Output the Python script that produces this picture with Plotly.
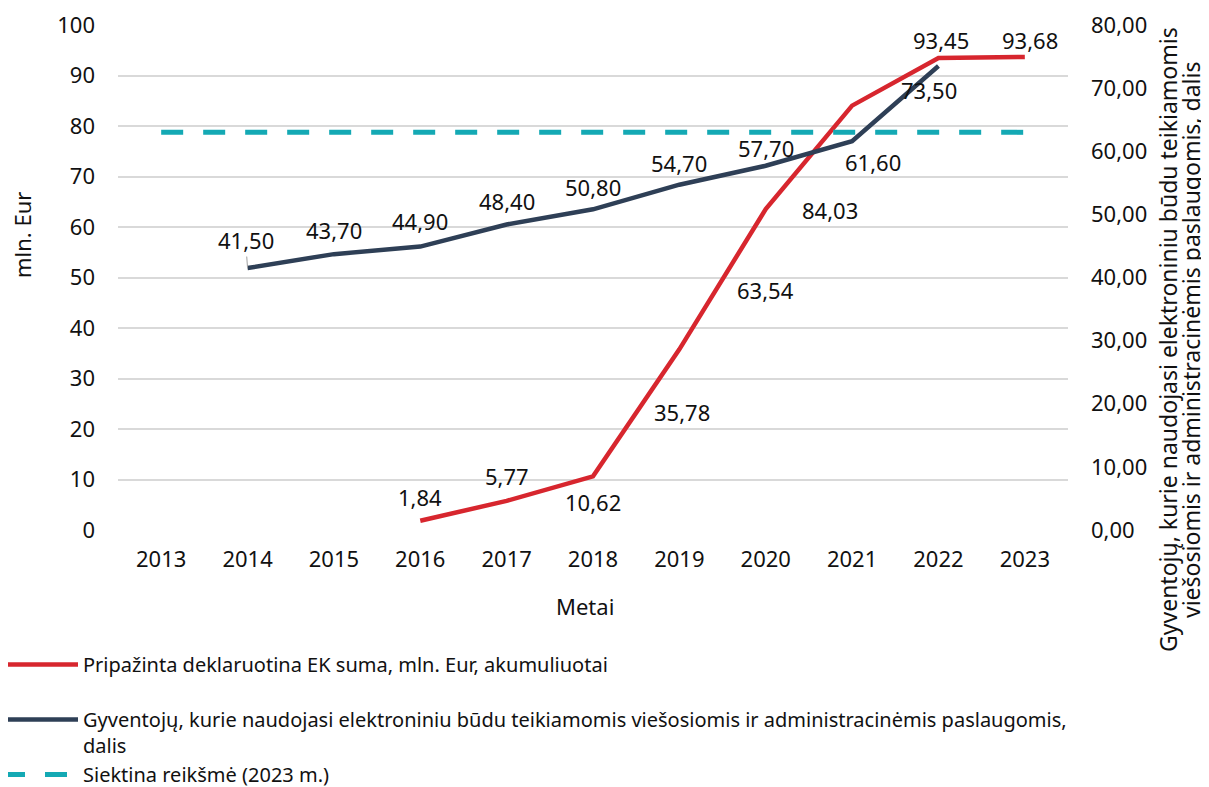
import plotly.graph_objects as go

years = ["2013", "2014", "2015", "2016", "2017", "2018", "2019", "2020", "2021", "2022", "2023"]

red_years = ["2016", "2017", "2018", "2019", "2020", "2021", "2022", "2023"]
red_values = [1.84, 5.77, 10.62, 35.78, 63.54, 84.03, 93.45, 93.68]

dark_years = ["2014", "2015", "2016", "2017", "2018", "2019", "2020", "2021", "2022"]
dark_values = [41.50, 43.70, 44.90, 48.40, 50.80, 54.70, 57.70, 61.60, 73.50]

target_years = ["2013", "2023"]
target_values = [63, 63]

red_name = "Pripažinta deklaruotina EK suma, mln. Eur, akumuliuotai"
dark_name = "Gyventojų, kurie naudojasi elektroniniu būdu teikiamomis viešosiomis ir administracinėmis paslaugomis,<br>dalis"
target_name = "Siektina reikšmė (2023 m.)"
left_title = "mln. Eur"
right_title_1 = "Gyventojų, kurie naudojasi elektroniniu būdu teikiamomis"
right_title_2 = "viešosiomis ir administracinėmis paslaugomis, dalis"
x_title = "Metai"

# label offsets in px (style)
red_shift = [(0, 24), (0, 25), (0, -26), (3, -63), (0, -81), (-22, -104), (3, 18), (5, 17)]
dark_shift = [(0, 28), (0, 24), (0, 26), (0, 23), (0, 22), (0, 22), (0, 18), (21, -21), (-9, -24)]

FONT = "Noto Sans"
FS = 22
TXT = "#111111"
RED = "#D7262E"
DARK = "#2E3F56"
TEAL = "#14A9B4"

# page has an 8px body margin: figure drawn at (8, 8)
OFF = 8
W, H = 1201, 779
L, T = 118 - OFF, 25 - OFF
PR, PB = 1068 - OFF, 530 - OFF
R, B = W - PR, H - PB
pw, ph = PR - L, PB - T

fig = go.Figure()
fig.add_trace(go.Scatter(x=red_years, y=red_values, mode="lines", name=red_name + "<br>&nbsp;",
                         line=dict(color=RED, width=4.5), yaxis="y"))
fig.add_trace(go.Scatter(x=dark_years, y=dark_values, mode="lines", name=dark_name,
                         line=dict(color=DARK, width=4.5), yaxis="y2"))
fig.add_trace(go.Scatter(x=target_years, y=target_values, mode="lines", name=target_name,
                         line=dict(color=TEAL, width=5, dash="22px,20px"), yaxis="y2"))


def fmt(v):
    return f"{v:.2f}".replace(".", ",")


lab_font = dict(family=FONT, size=FS, color=TXT)
ann = []
for x, v, (dx, dy) in zip(red_years, red_values, red_shift):
    ann.append(dict(x=years.index(x), y=v, xref="x", yref="y", text=fmt(v), showarrow=False,
                    xshift=dx, yshift=dy, font=lab_font))
for i, (x, v, (dx, dy)) in enumerate(zip(dark_years, dark_values, dark_shift)):
    if i == 0:
        ann.append(dict(x=years.index(x), y=v, xref="x", yref="y2", text=fmt(v), showarrow=True,
                        ax=-2, ay=-dy, arrowhead=0, arrowwidth=1, arrowcolor="#A0A0A0",
                        standoff=0, startstandoff=0, font=lab_font))
    else:
        ann.append(dict(x=years.index(x), y=v, xref="x", yref="y2", text=fmt(v), showarrow=False,
                        xshift=dx, yshift=dy, font=lab_font))


def page_to_paper(px, py):
    return (px - OFF - L) / pw, 1 - (py - OFF - T) / ph


for text, (px, py), ang, fs in [(left_title, (22, 235), -90, FS),
                                (right_title_1, (1168, 340), -90, 23),
                                (right_title_2, (1191, 340), -90, 23),
                                (x_title, (585, 606), 0, FS)]:
    xp, yp = page_to_paper(px, py)
    ann.append(dict(x=xp, y=yp, xref="paper", yref="paper", text=text, showarrow=False,
                    textangle=ang, xanchor="center", yanchor="middle",
                    font=dict(family=FONT, size=fs, color=TXT)))

leg_x, _ = page_to_paper(-2, 0)
_, leg_y = page_to_paper(0, 645)

fig.update_layout(
    width=W, height=H,
    margin=dict(l=L, r=R, t=T, b=B, autoexpand=False),
    plot_bgcolor="white", paper_bgcolor="white",
    separators=", ",
    font=dict(family=FONT, size=FS, color=TXT),
    showlegend=True,
    legend=dict(orientation="v", xref="paper", yref="paper", x=leg_x, y=leg_y,
                xanchor="left", yanchor="top", valign="top", itemwidth=75,
                font=dict(family=FONT, size=20, color=TXT), bgcolor="rgba(0,0,0,0)",
                tracegroupgap=0, traceorder="normal"),
    xaxis=dict(type="category", categoryorder="array", categoryarray=years, range=[-0.5, 10.5],
               showgrid=False, zeroline=False, showline=False, ticks="", ticklabelstandoff=14,
               tickfont=lab_font),
    yaxis=dict(range=[0, 100], dtick=10, showgrid=True, gridcolor="#D9D9D9", gridwidth=1.5,
               zeroline=False, showline=False, ticks="", ticklabelstandoff=22,
               tickfont=lab_font),
    yaxis2=dict(range=[0, 80], dtick=10, overlaying="y", side="right", showgrid=False,
                zeroline=False, showline=False, ticks="", tickformat=".2f", ticklabelstandoff=22,
                tickfont=lab_font),
    annotations=ann,
)

fig.write_html("out.html")
